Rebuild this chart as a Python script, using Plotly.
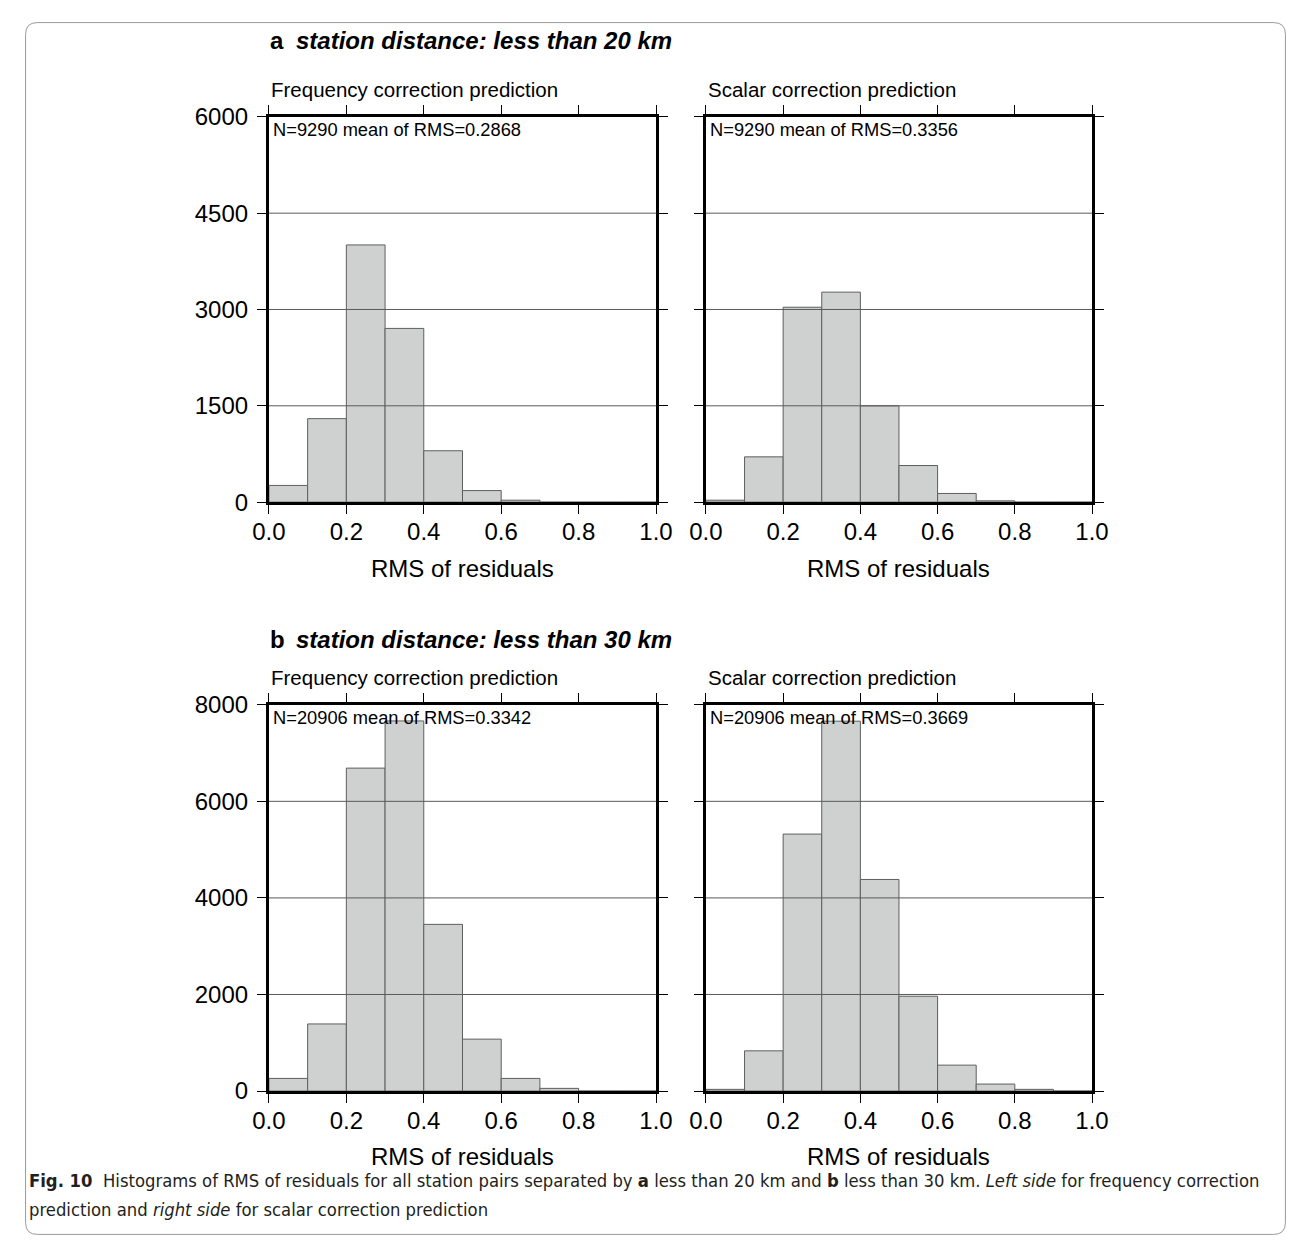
import plotly.graph_objects as go

W, H = 1295, 1240

# ---------------- data ----------------
bin_centers = [0.05, 0.15, 0.25, 0.35, 0.45, 0.55, 0.65, 0.75, 0.85, 0.95]
bin_width = 0.1

a_freq_counts = [260, 1300, 4005, 2705, 800, 180, 30, 0, 0, 0]
a_scalar_counts = [30, 705, 3035, 3270, 1500, 570, 135, 20, 0, 0]
b_freq_counts = [262, 1390, 6688, 7665, 3452, 1075, 262, 56, 0, 0]
b_scalar_counts = [35, 833, 5322, 7660, 4382, 1964, 537, 145, 35, 0]

x_ticks = [0.0, 0.2, 0.4, 0.6, 0.8, 1.0]
a_y_ticks = [0, 1500, 3000, 4500, 6000]
b_y_ticks = [0, 2000, 4000, 6000, 8000]

a_header = "station distance: less than 20 km"
b_header = "station distance: less than 30 km"
sub_freq = "Frequency correction prediction"
sub_scalar = "Scalar correction prediction"
a_freq_note = "N=9290 mean of RMS=0.2868"
a_scalar_note = "N=9290 mean of RMS=0.3356"
b_freq_note = "N=20906 mean of RMS=0.3342"
b_scalar_note = "N=20906 mean of RMS=0.3669"
x_title = "RMS of residuals"

# ---------------- layout geometry ----------------
# target positions (in screen pixels) mapped into figure pixels
SX, OX = 0.976, 23.5
SY, OY = 0.980, 20.0


def fx(px):
    return (px - OX) / SX


def fy(py):
    return (py - OY) / SY


def xp(px):
    return fx(px) / W


def yp(py):
    return 1 - fy(py) / H


col_px = [(268, 656), (706, 1093)]
row_px = [(115, 501), (704, 1091)]

panels = [
    dict(counts=a_freq_counts, yt=a_y_ticks, sub=sub_freq, note=a_freq_note, r=0, c=0),
    dict(counts=a_scalar_counts, yt=a_y_ticks, sub=sub_scalar, note=a_scalar_note, r=0, c=1),
    dict(counts=b_freq_counts, yt=b_y_ticks, sub=sub_freq, note=b_freq_note, r=1, c=0),
    dict(counts=b_scalar_counts, yt=b_y_ticks, sub=sub_scalar, note=b_scalar_note, r=1, c=1),
]

FONT = "Liberation Sans, Arial, Helvetica, sans-serif"
BAR_FILL = "#cfd1d1"
BAR_LINE = "#5e5e5e"
GRID = "#5a5a5a"

fig = go.Figure()
layout = dict(
    width=W, height=H, autosize=False,
    margin=dict(l=0, r=0, t=0, b=0),
    paper_bgcolor="white", plot_bgcolor="white",
    showlegend=False,
    font=dict(family=FONT, color="black"),
)
shapes = []
annotations = []

for i, p in enumerate(panels, start=1):
    xa = "x" if i == 1 else f"x{i}"
    ya = "y" if i == 1 else f"y{i}"
    fig.add_trace(go.Bar(
        x=bin_centers, y=p["counts"], width=[bin_width] * len(bin_centers),
        marker=dict(color=BAR_FILL, line=dict(color=BAR_LINE, width=1)),
        xaxis=xa, yaxis=ya, hoverinfo="skip",
    ))
    x0, x1 = col_px[p["c"]]
    y0, y1 = row_px[p["r"]]
    ymax = p["yt"][-1]
    layout["xaxis" if i == 1 else f"xaxis{i}"] = dict(
        domain=[xp(x0), xp(x1)], anchor=ya, range=[0, 1],
        tickvals=x_ticks, tickformat=".1f", ticks="outside", ticklen=9,
        tickwidth=1, tickcolor="black", ticklabelstandoff=-3,
        showline=True, linewidth=3, linecolor="black", mirror="allticks",
        showgrid=False, zeroline=False,
        tickfont=dict(family=FONT, size=24, color="black"),
    )
    layout["yaxis" if i == 1 else f"yaxis{i}"] = dict(
        domain=[yp(y1), yp(y0)], anchor=xa, range=[0, ymax],
        tickvals=p["yt"], ticks="outside", ticklen=9, tickwidth=1,
        tickcolor="black", ticklabelstandoff=4,
        showticklabels=(p["c"] == 0),
        showline=True, linewidth=3, linecolor="black", mirror="allticks",
        showgrid=False, zeroline=False,
        tickfont=dict(family=FONT, size=24, color="black"),
    )
    # horizontal grid lines drawn above the bars
    for v in p["yt"][1:-1]:
        shapes.append(dict(
            type="line", xref=f"{xa} domain", yref=ya, x0=0, x1=1, y0=v, y1=v,
            line=dict(color=GRID, width=1), layer="above",
        ))
    # subtitle
    annotations.append(dict(
        x=xp(x0), y=yp(y0 - 27), xref="paper", yref="paper",
        xanchor="left", yanchor="middle", showarrow=False,
        text=p["sub"], font=dict(family=FONT, size=20.5, color="black"),
    ))
    # N / mean note
    annotations.append(dict(
        x=xp(x0 + 2), y=yp(y0 + 13), xref="paper", yref="paper",
        xanchor="left", yanchor="middle", showarrow=False,
        text=p["note"], font=dict(family=FONT, size=18.3, color="black"),
    ))
    # x title
    annotations.append(dict(
        x=xp((x0 + x1) / 2), y=yp(y1 + 66), xref="paper", yref="paper",
        xanchor="center", yanchor="middle", showarrow=False,
        text=x_title, font=dict(family=FONT, size=24, color="black"),
    ))

# panel headers
for letter, header, py in [("a", a_header, 39), ("b", b_header, 639)]:
    annotations.append(dict(
        x=xp(267), y=yp(py), xref="paper", yref="paper",
        xanchor="left", yanchor="middle", showarrow=False,
        text=f"<b>{letter}</b>", font=dict(family=FONT, size=24, color="black"),
    ))
    annotations.append(dict(
        x=xp(293), y=yp(py), xref="paper", yref="paper",
        xanchor="left", yanchor="middle", showarrow=False,
        text=f"<b><i>{header}</i></b>", font=dict(family=FONT, size=24, color="black"),
    ))

# caption
CAP_FONT = "DejaVu Sans Condensed, Liberation Sans Narrow, sans-serif"
cap1 = ("<b>Fig. 10</b>  Histograms of RMS of residuals for all station pairs separated by "
        "<b>a</b> less than 20 km and <b>b</b> less than 30 km. <i>Left side</i> for frequency correction")
cap2 = "prediction and <i>right side</i> for scalar correction prediction"
for txt, py in [(cap1, 1181), (cap2, 1210)]:
    annotations.append(dict(
        x=max(xp(12), 2 / W), y=yp(py), xref="paper", yref="paper",
        xanchor="left", yanchor="middle", showarrow=False,
        text=txt, font=dict(family=CAP_FONT, size=18.3, color="#231f20"),
    ))

# outer rounded border (kept inside the figure)
r = 12
L = max(xp(4), 0.6 / W)
R = min(xp(1290), 1 - 0.6 / W)
T = min(yp(9), 1 - 0.6 / H)
B = max(yp(1236), 0.6 / H)
rx, ry = r / W, r / H
path = (f"M {L+rx},{T} L {R-rx},{T} Q {R},{T} {R},{T-ry} L {R},{B+ry} Q {R},{B} {R-rx},{B} "
        f"L {L+rx},{B} Q {L},{B} {L},{B+ry} L {L},{T-ry} Q {L},{T} {L+rx},{T} Z")
shapes.append(dict(type="path", xref="paper", yref="paper", path=path,
                   line=dict(color="#9a9a9a", width=1), layer="below"))

layout["shapes"] = shapes
layout["annotations"] = annotations
fig.update_layout(**layout)
fig.write_html("out.html")
